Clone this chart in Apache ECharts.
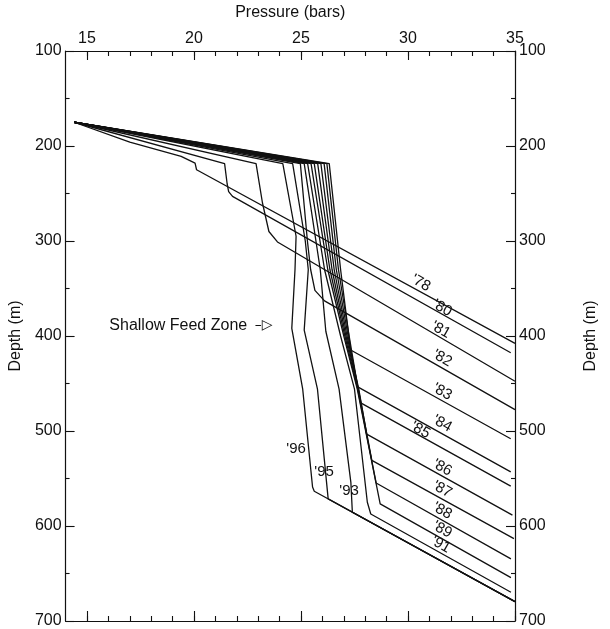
<!DOCTYPE html>
<html>
<head>
<meta charset="utf-8">
<script src="https://cdn.jsdelivr.net/npm/echarts@6/dist/echarts.min.js"></script>
<style>
  html, body { margin: 0; padding: 0; background: #fff; }
  #chart { width: 610px; height: 629px; }
</style>
</head>
<body>
<div id="chart"></div>
<script>
// tick labels
const pressureMajor = [15, 20, 25, 30, 35];
const pressureMinor = [15, 16, 17, 18, 19, 20, 21, 22, 23, 24, 25, 26, 27, 28, 29, 30, 31, 32, 33, 34, 35];

// pressure (bars), depth (m) for each survey year
const years = ["'78", "'80", "'81", "'82", "'83", "'84", "'85", "'86", "'87", "'88", "'89", "'91", "'93", "'95", "'96"];
const p78 = [[14.4, 175], [17.0, 196], [19.4, 211], [20.05, 218], [20.12, 225], [35.0, 407.8]];
const p80 = [[14.4, 175], [21.43, 218.5], [21.55, 240], [21.62, 248], [21.8, 253], [34.8, 417.6]];
const p81 = [[14.4, 175], [22.9, 218.5], [23.2, 260], [23.5, 290], [23.9, 301], [35.0, 447.6]];
const p82 = [[14.4, 175], [24.97, 218.5], [25.3, 300], [25.45, 330], [25.65, 352], [26.1, 363], [35.0, 477.5]];
const p83 = [[14.4, 175], [26.32, 218.5], [26.85, 330], [27.32, 414.7], [34.8, 508.2]];
const p84 = [[14.4, 175], [26.21, 218.5], [26.75, 330], [27.25, 400], [27.65, 453.6], [34.8, 543]];
const p85 = [[14.4, 175], [26.08, 218.5], [26.65, 330], [27.2, 400], [27.79, 470.4], [34.8, 558]];
const p86 = [[14.4, 175], [25.93, 218.5], [26.55, 330], [27.15, 400], [27.7, 456], [28.07, 503.3], [34.88, 588.6]];
const p87 = [[14.4, 175], [25.78, 218.5], [26.45, 330], [27.1, 400], [27.68, 456], [28.31, 530.9], [34.95, 613.3]];
const p88 = [[14.4, 175], [25.62, 218.5], [26.35, 330], [27.05, 400], [27.65, 456], [28.51, 554.7], [34.81, 634.6]];
const p89 = [[14.4, 175], [25.47, 218.5], [26.25, 330], [27.0, 400], [27.63, 456], [28.7, 576.7], [34.81, 654.3]];
const p91 = [[14.4, 175], [25.31, 218.5], [26.1, 330], [26.85, 400], [27.5, 456], [28.1, 575], [28.26, 587.4], [34.81, 669.7]];
const p93 = [[14.4, 175], [25.15, 218.5], [25.9, 330], [26.16, 395], [26.78, 456], [27.33, 554], [27.4, 585.5], [35.0, 679.6]];
const p95 = [[14.4, 175], [24.61, 218.5], [25.2, 300], [25.34, 330], [25.15, 393.8], [25.77, 456], [26.27, 571.5], [35.0, 679.6]];
const p96 = [[14.4, 175], [24.15, 218.5], [24.77, 295], [24.72, 330], [24.57, 392], [25.08, 456], [25.54, 559], [25.62, 563.4], [35.0, 679.6]];
const profiles = [p78, p80, p81, p82, p83, p84, p85, p86, p87, p88, p89, p91, p93, p95, p96];

// where the year tags sit (pressure, depth)
const tagSlanted = [[30.6, 344.3], [31.6, 370.7], [31.53, 393.6], [31.6, 423.5], [31.6, 458.8], [31.6, 492.3],
  [30.58, 499.2], [31.6, 538.7], [31.6, 561.6], [31.6, 584.2], [31.6, 603.9], [31.53, 619.7]];
const tagUpright = [[27.25, 563], [26.08, 543], [24.77, 518.4]];
const feedZone = [16.02, 388.9];

const FONT = "'Liberation Sans', Arial, Helvetica, sans-serif";
const INK = "#111";

const chart = echarts.init(document.getElementById("chart"));

const pressureAxis = (pos, ticks, len, showLine) => ({
  type: "value",
  position: pos,
  min: 14,
  max: 35,
  axisLine: { show: showLine, lineStyle: { color: INK, width: 1.2 } },
  axisTick: { show: true, inside: true, length: len, customValues: ticks, lineStyle: { color: INK, width: 1.1 } },
  axisLabel: { show: false },
  splitLine: { show: false }
});

const depthAxis = (pos, gap) => ({
  type: "value",
  position: pos,
  inverse: true,
  min: 100,
  max: 700,
  interval: 100,
  name: "Depth (m)",
  nameLocation: "middle",
  nameRotate: 90,
  nameGap: gap,
  nameTextStyle: { fontFamily: FONT, fontSize: 16, color: INK },
  axisLine: { show: true, lineStyle: { color: INK, width: 1.2 } },
  axisTick: { show: true, inside: true, length: 9, lineStyle: { color: INK, width: 1.1 } },
  minorTick: { show: true, splitNumber: 2, length: 4, lineStyle: { color: INK, width: 1.1 } },
  axisLabel: { fontFamily: FONT, fontSize: 16, color: INK, margin: 4 },
  splitLine: { show: false }
});

const topAxis = pressureAxis("top", pressureMajor, 9, true);
topAxis.name = "Pressure (bars)";
topAxis.nameLocation = "middle";
topAxis.nameGap = 30;
topAxis.nameTextStyle = { fontFamily: FONT, fontSize: 16, color: INK };
topAxis.axisLabel = { show: true, customValues: pressureMajor, fontFamily: FONT, fontSize: 16, color: INK, margin: 4 };

const lineSeries = profiles.map((pts, i) => ({
  name: years[i],
  type: "line",
  data: pts,
  symbol: "none",
  showSymbol: false,
  silent: true,
  lineStyle: { color: INK, width: 1.3 },
  z: 2
}));

const tagSeries = (pts, names, rot) => ({
  type: "scatter",
  data: pts.map((p, i) => [p[0], p[1], names[i]]),
  symbolSize: 1,
  itemStyle: { color: "transparent", opacity: 1 },
  silent: true,
  label: {
    show: true,
    position: "inside",
    rotate: rot,
    formatter: (p) => p.data[2],
    fontFamily: FONT,
    fontSize: 15,
    color: INK,
    opacity: 1,
    textBorderWidth: 0
  },
  z: 3
});

const option = {
  animation: false,
  backgroundColor: "#fff",
  grid: { left: 63, right: 95, top: 51, bottom: 8, containLabel: false },
  xAxis: [
    topAxis,
    pressureAxis("top", pressureMinor, 5, false),
    pressureAxis("bottom", pressureMajor, 10, true),
    pressureAxis("bottom", pressureMinor, 5, false)
  ],
  yAxis: [depthAxis("left", 40), depthAxis("right", 68)],
  series: [
    ...lineSeries,
    tagSeries(tagSlanted, years.slice(0, 12), -29),
    tagSeries(tagUpright, ["'93", "'95", "'96"], 0),
    {
      type: "scatter",
      data: [[feedZone[0], feedZone[1], "Shallow Feed Zone"]],
      symbolSize: 1,
      itemStyle: { color: "transparent", opacity: 1 },
      silent: true,
      label: {
        show: true,
        position: "right",
        distance: 0,
        formatter: "Shallow Feed Zone {arr|\u2013\u25B7}",
        fontFamily: FONT,
        fontSize: 16,
        color: INK,
        opacity: 1,
        textBorderWidth: 0,
        rich: { arr: { fontFamily: "'DejaVu Sans', sans-serif", fontSize: 14, color: INK, padding: [0, 0, 0, 3] } }
      },
      z: 3
    }
  ]
};

chart.setOption(option);
</script>
</body>
</html>
